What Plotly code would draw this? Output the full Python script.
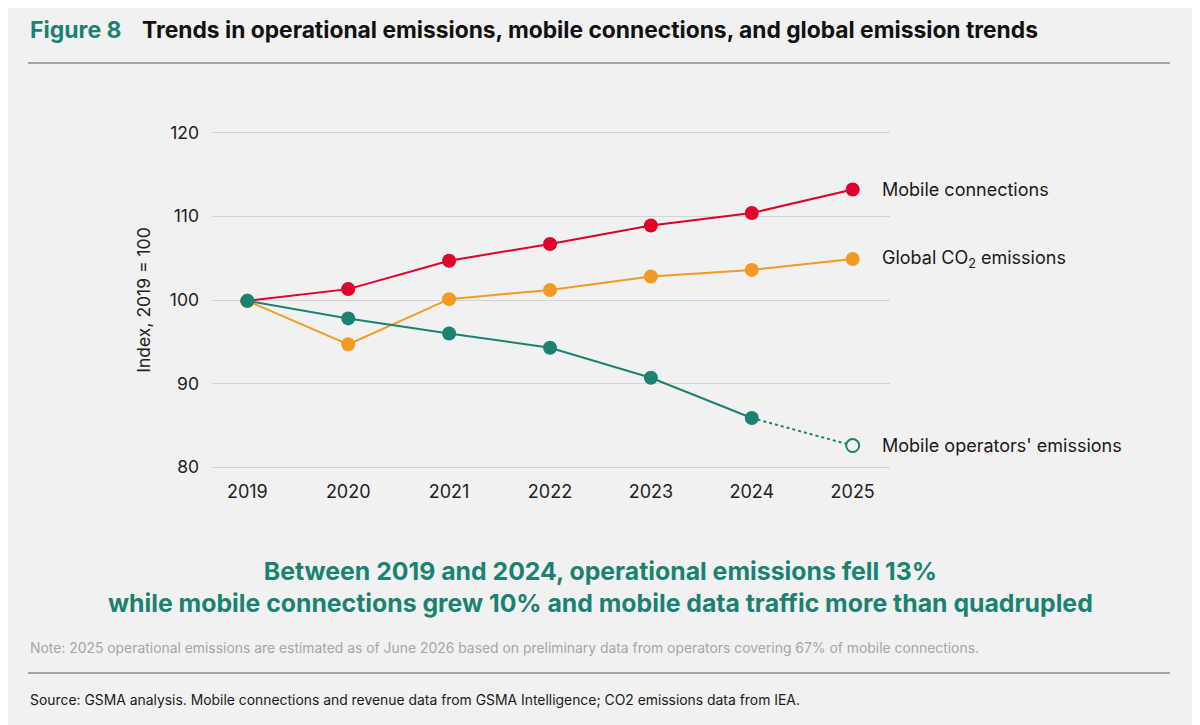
import plotly.graph_objects as go

# Values (index, 2019 = 100)
years = [2019, 2020, 2021, 2022, 2023, 2024, 2025]
mobile_connections = [99.9, 101.3, 104.7, 106.7, 108.9, 110.4, 113.2]
global_co2 = [99.9, 94.7, 100.1, 101.2, 102.8, 103.6, 104.9]
operator_emissions = [99.9, 97.8, 96.0, 94.3, 90.7, 85.9, 82.6]

series_labels = ["Mobile connections", "Global CO<sub>2</sub> emissions", "Mobile operators' emissions"]
y_ticks = [80, 90, 100, 110, 120]

RED = "#e0002a"
ORANGE = "#f29a22"
TEAL = "#1a8270"
BG = "#f1f1f1"
FONT = "Inter"

W, H = 1200, 725
OFF = 8  # page body margin in the browser

# plot area in pixels (as seen in the reference), used to place the page furniture
L, R, T, B = 212 - OFF, 890 - OFF, 131 - OFF, 469 - OFF


def px(x):
    return (x - OFF - L) / (R - L)


def py(y):
    return (B - (y - OFF)) / (B - T)


fig = go.Figure()

fig.add_trace(go.Scatter(
    x=years, y=mobile_connections, mode="lines+markers",
    line=dict(color=RED, width=2), marker=dict(size=14, color=RED),
))
fig.add_trace(go.Scatter(
    x=years, y=global_co2, mode="lines+markers",
    line=dict(color=ORANGE, width=2), marker=dict(size=14, color=ORANGE),
))
# dotted estimate for the last year
fig.add_trace(go.Scatter(
    x=years[-2:], y=operator_emissions[-2:], mode="lines",
    line=dict(color=TEAL, width=2, dash="dot"),
))
fig.add_trace(go.Scatter(
    x=years[:-1], y=operator_emissions[:-1], mode="lines+markers",
    line=dict(color=TEAL, width=2), marker=dict(size=14, color=TEAL),
))
fig.add_trace(go.Scatter(
    x=years[-1:], y=operator_emissions[-1:], mode="markers",
    marker=dict(size=13, color=BG, line=dict(color=TEAL, width=2)),
))

# end-of-line labels
for vals, label in zip([mobile_connections, global_co2, operator_emissions], series_labels):
    fig.add_annotation(x=years[-1], y=vals[-1], text=label, showarrow=False,
                       xanchor="left", yanchor="middle", xshift=27,
                       font=dict(family=FONT, size=18, color="#1a1a1a"))

# title
fig.add_annotation(x=px(28), y=py(30), xref="paper", yref="paper", text="<b>Figure 8</b>",
                   showarrow=False, xanchor="left", yanchor="middle",
                   font=dict(family=FONT, size=23, color=TEAL))
fig.add_annotation(x=px(140), y=py(30), xref="paper", yref="paper",
                   text="<b>Trends in operational emissions, mobile connections, and global emission trends</b>",
                   showarrow=False, xanchor="left", yanchor="middle",
                   font=dict(family=FONT, size=22.8, color="#111111"))

# key message
fig.add_annotation(x=px(600), y=py(587), xref="paper", yref="paper",
                   text="<b>Between 2019 and 2024, operational emissions fell 13%<br>"
                        "while mobile connections grew 10% and mobile data traffic more than quadrupled</b>",
                   showarrow=False, xanchor="center", yanchor="middle",
                   font=dict(family=FONT, size=24.8, color=TEAL))

fig.add_annotation(x=px(28), y=py(648), xref="paper", yref="paper",
                   text="Note: 2025 operational emissions are estimated as of June 2026 based on preliminary data "
                        "from operators covering 67% of mobile connections.",
                   showarrow=False, xanchor="left", yanchor="middle",
                   font=dict(family=FONT, size=13.9, color="#a6a6a6"))
fig.add_annotation(x=px(28), y=py(700), xref="paper", yref="paper",
                   text="Source: GSMA analysis. Mobile connections and revenue data from GSMA Intelligence; "
                        "CO2 emissions data from IEA.",
                   showarrow=False, xanchor="left", yanchor="middle",
                   font=dict(family=FONT, size=13.9, color="#1a1a1a"))

for yy in [63, 673]:
    fig.add_shape(type="line", xref="paper", yref="paper",
                  x0=px(28), x1=px(1170), y0=py(yy), y1=py(yy),
                  line=dict(color="#8a8a8a", width=1.5))

fig.update_layout(
    width=W, height=H,
    margin=dict(l=L, r=W - R, t=T, b=H - B),
    paper_bgcolor=BG, plot_bgcolor=BG,
    showlegend=False,
    font=dict(family=FONT, color="#222222"),
    xaxis=dict(
        range=[2018.65, 2025.37], tickvals=years, ticktext=[str(y) for y in years],
        showgrid=False, zeroline=False, showline=False,
        tickfont=dict(size=18, color="#222222"), ticks="", ticklabelstandoff=10,
    ),
    yaxis=dict(
        range=[79.8, 120.2], tickvals=y_ticks, showgrid=True, gridcolor="#d4d4d4", gridwidth=1,
        zeroline=False, showline=False, ticks="", ticklabelstandoff=12,
        tickfont=dict(size=17.5, color="#222222"),
        title=dict(text="Index, 2019 = 100", font=dict(size=17.5, color="#222222"), standoff=14),
    ),
)

fig.write_html("out.html")
